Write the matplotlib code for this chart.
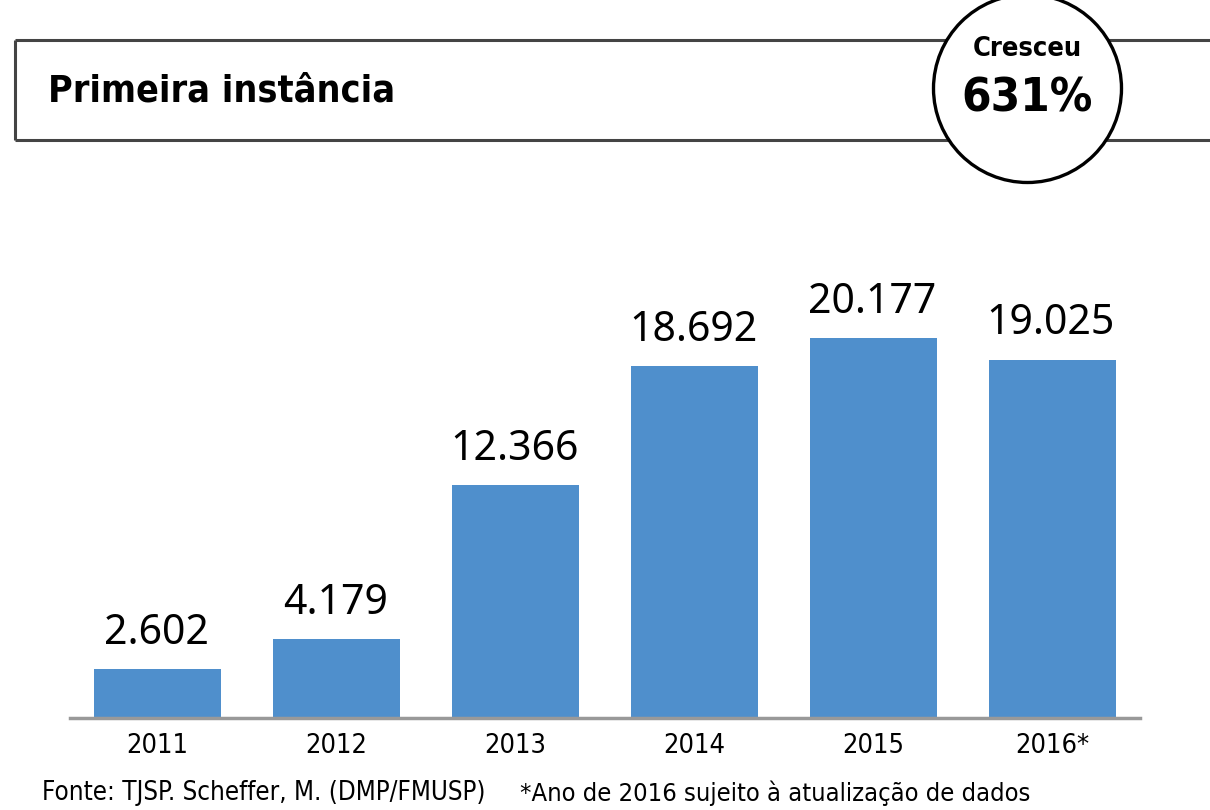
import matplotlib
matplotlib.use("Agg")
import matplotlib.pyplot as plt
from matplotlib.patches import Circle

years = ["2011", "2012", "2013", "2014", "2015", "2016*"]
values = [2602, 4179, 12366, 18692, 20177, 19025]
value_labels = ["2.602", "4.179", "12.366", "18.692", "20.177", "19.025"]
title = "Primeira instância"
badge_top = "Cresceu"
badge_value = "631%"
source = "Fonte: TJSP. Scheffer, M. (DMP/FMUSP)"
note = "*Ano de 2016 sujeito à atualização de dados"

COND = dict(family="DejaVu Sans", fontstretch="condensed")
bar_color = "#4f8fcc"

fig = plt.figure(figsize=(12.1, 8.1), dpi=100)

deco = fig.add_axes([0, 0, 1, 1])
deco.set_xlim(0, 1210)
deco.set_ylim(810, 0)
deco.axis("off")
deco.plot([15, 1210], [40, 40], color="#444444", lw=2.2, solid_capstyle="butt")
deco.plot([15, 1210], [140, 140], color="#444444", lw=2.2, solid_capstyle="butt")
deco.plot([15, 15], [40, 140], color="#444444", lw=2.2, solid_capstyle="butt")
deco.add_patch(Circle((1027.5, 88.5), 94, facecolor="white", edgecolor="black", lw=2.4, zorder=3))
deco.text(48, 91, title, fontsize=27, fontweight="bold", va="center", ha="left", **COND)
deco.text(1027, 49, badge_top, fontsize=19.5, fontweight="bold", va="center", ha="center", zorder=4, **COND)
deco.text(1027, 99, badge_value, fontsize=34, fontweight="bold", va="center", ha="center", zorder=4, **COND)
deco.text(42, 793, source, fontsize=18.6, va="center", ha="left", **COND)
deco.text(520, 793, note, fontsize=18.3, va="center", ha="left", **COND)

ax = fig.add_axes([70 / 1210, (810 - 718) / 810, 1070 / 1210, 558 / 810])
x = list(range(len(years)))
ax.bar(x, values, width=0.71, color=bar_color, zorder=2)
ax.set_xlim(-0.49, 5.49)
ax.set_ylim(0, 29630)
for xi, v, lab in zip(x, values, value_labels):
    ax.annotate(lab, (xi, v), xytext=(-1, 11), textcoords="offset points",
                ha="center", va="bottom", fontsize=29.5, family=["Noto Sans", "DejaVu Sans"])
ax.set_xticks(x)
ax.set_xticklabels(years, fontsize=19.5, **COND)
ax.tick_params(axis="x", length=0, pad=11)
ax.set_yticks([])
for s in ["top", "right", "left"]:
    ax.spines[s].set_visible(False)
ax.spines["bottom"].set_color("#999999")
ax.spines["bottom"].set_linewidth(2.5)
ax.patch.set_alpha(0)

fig.savefig("out.png", dpi=100, facecolor="white")
